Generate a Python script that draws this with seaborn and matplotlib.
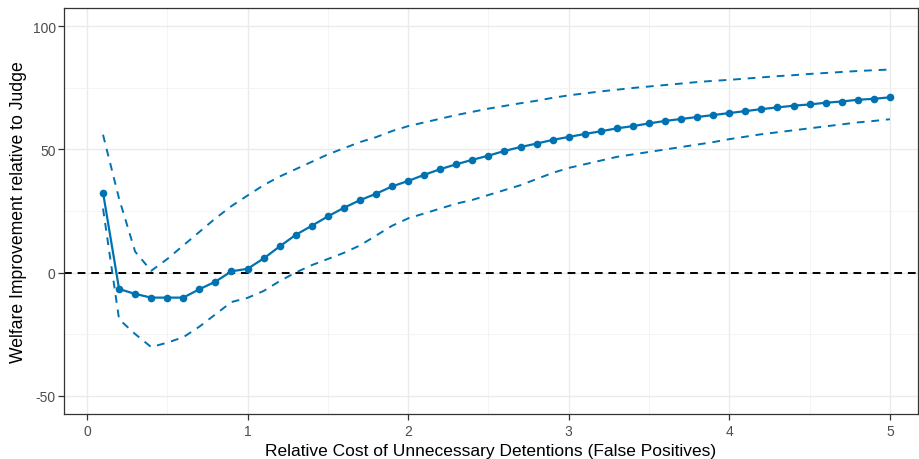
# Libraries & Packages:
import numpy as np
import pandas as pd
import seaborn as sns
import matplotlib.pyplot as plt
from matplotlib.ticker import MultipleLocator


# Data
cost = [round(0.1 * i, 1) for i in range(1, 51)]

welfare = [32.5, -6.7, -8.7, -10.2, -10.2, -10.2, -6.8, -3.7, 0.5, 1.5,
           5.7, 10.6, 15.3, 19.0, 22.8, 26.3, 29.4, 32.0, 35.0, 37.2,
           39.7, 42.0, 44.0, 45.8, 47.5, 49.4, 51.0, 52.4, 53.9, 55.1,
           56.3, 57.4, 58.6, 59.5, 60.6, 61.6, 62.4, 63.2, 64.0, 64.8,
           65.6, 66.4, 67.1, 67.8, 68.3, 69.0, 69.5, 70.2, 70.6, 71.2]

upper = [56.0, 30.0, 8.5, 0.7, 5.5, 11.0, 16.5, 22.0, 27.0, 31.3,
         35.5, 39.0, 42.0, 45.0, 48.0, 50.5, 53.0, 55.0, 57.5, 59.5,
         61.0, 62.5, 64.0, 65.3, 66.6, 67.7, 68.8, 69.8, 71.0, 72.0,
         72.8, 73.6, 74.3, 75.0, 75.6, 76.2, 76.8, 77.4, 77.9, 78.3,
         78.8, 79.3, 79.8, 80.2, 80.7, 81.1, 81.5, 81.9, 82.2, 82.5]

lower = [26.0, -19.0, -25.0, -30.3, -28.5, -26.3, -22.0, -17.0, -12.0, -10.3,
         -7.5, -3.5, 0.0, 3.0, 5.5, 8.0, 11.0, 15.0, 19.0, 22.0,
         24.0, 26.0, 28.0, 29.5, 31.5, 33.5, 35.5, 38.0, 40.5, 42.5,
         44.0, 45.5, 47.0, 48.0, 49.0, 50.0, 51.0, 52.0, 53.0, 54.2,
         55.2, 56.2, 57.0, 57.8, 58.6, 59.4, 60.2, 61.0, 61.6, 62.3]

df = pd.DataFrame({"cost": cost, "welfare": welfare, "upper": upper, "lower": lower})

blue = "#0072B2"

# Theme
sns.set_style("white")
plt.rcParams["font.family"] = ["Liberation Sans", "DejaVu Sans"]
plt.rcParams["axes.unicode_minus"] = False

fig = plt.figure(figsize=(9.19, 4.6), dpi=100)
ax = fig.add_axes([64 / 919, 1 - 415 / 460, 854 / 919, 406 / 460])

# Grid (major + minor, like theme_bw)
ax.xaxis.set_major_locator(MultipleLocator(1))
ax.xaxis.set_minor_locator(MultipleLocator(0.5))
ax.yaxis.set_major_locator(MultipleLocator(50))
ax.yaxis.set_minor_locator(MultipleLocator(25))
ax.grid(which="major", color="#EBEBEB", linewidth=1.0)
ax.grid(which="minor", color="#F2F2F2", linewidth=0.6)
ax.set_axisbelow(True)

# Zero reference line
ax.axhline(0, color="black", linestyle=(0, (4, 3)), linewidth=1.4, zorder=2)

# Confidence bounds
sns.lineplot(data=df, x="cost", y="upper", ax=ax, color=blue,
             linewidth=1.4, linestyle=(0, (4, 3.5)), zorder=3)
sns.lineplot(data=df, x="cost", y="lower", ax=ax, color=blue,
             linewidth=1.4, linestyle=(0, (4, 3.5)), zorder=3)

# Point estimates
sns.lineplot(data=df, x="cost", y="welfare", ax=ax, color=blue,
             linewidth=1.6, marker="o", markersize=5.5,
             markeredgewidth=0, zorder=4)

ax.set_xlim(-0.143, 5.175)
ax.set_ylim(-57.5, 107.5)

for side in ["left", "right", "top", "bottom"]:
    ax.spines[side].set_color("#333333")
    ax.spines[side].set_linewidth(0.9)

ax.tick_params(which="major", length=4, width=0.9, color="#333333",
               labelcolor="#4D4D4D", labelsize=10, left=True, bottom=True)
ax.tick_params(axis="y", which="major", pad=2)
ax.tick_params(which="minor", length=0)

ax.set_xlabel("Relative Cost of Unnecessary Detentions (False Positives)",
              fontsize=12.5, color="black", labelpad=3)
ax.set_ylabel("Welfare Improvement relative to Judge",
              fontsize=12.7, color="black", labelpad=4)

fig.savefig("out.png", dpi=100)
